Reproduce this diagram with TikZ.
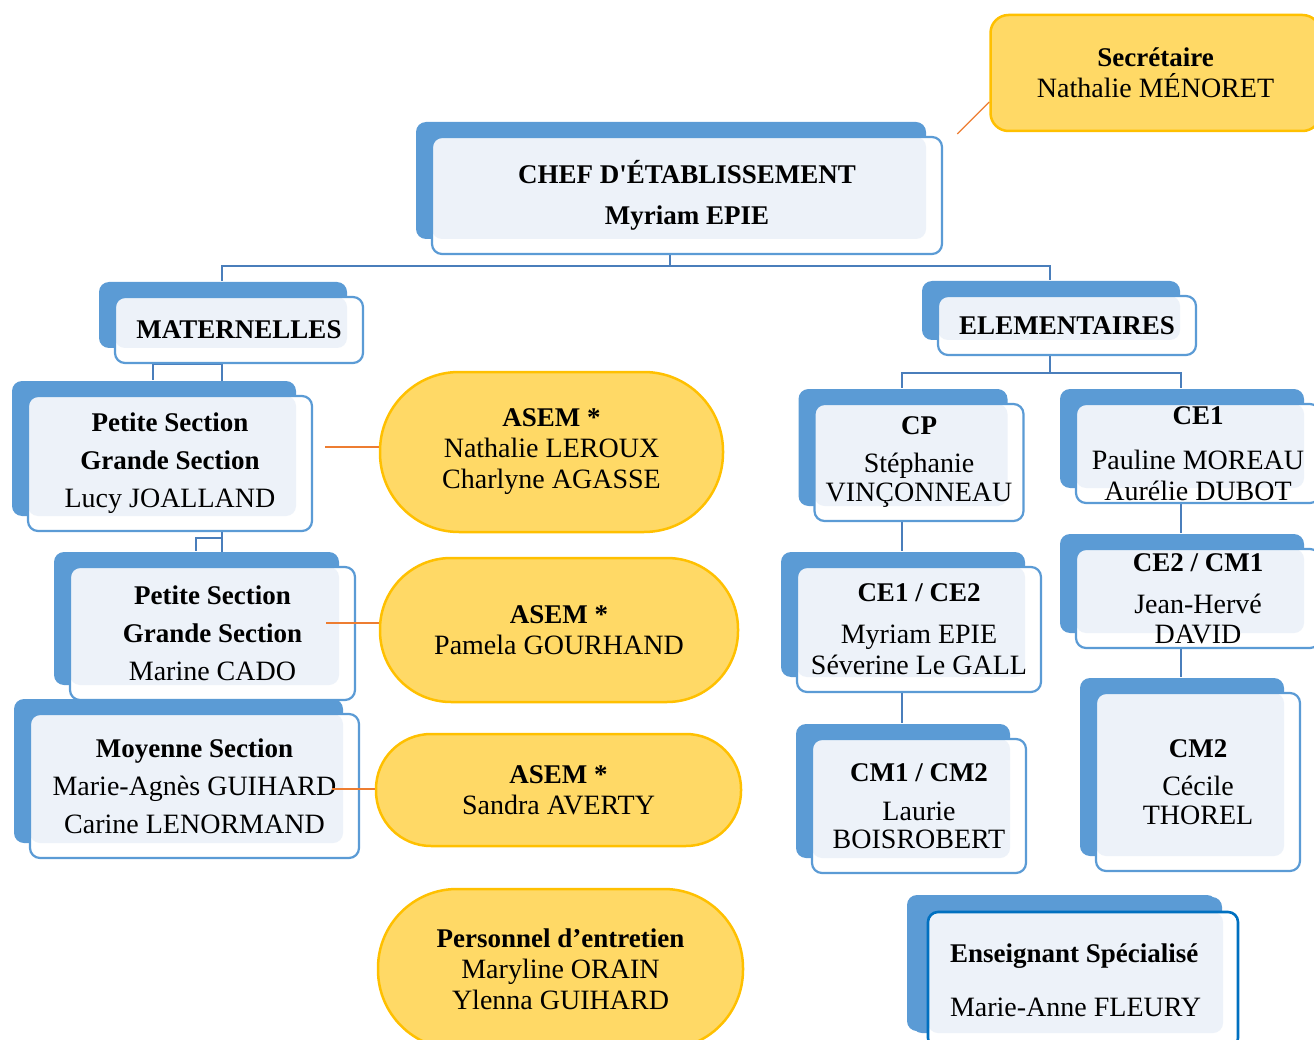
\documentclass[tikz,border=0pt]{standalone}
\usepackage{fontspec}
\setmainfont{Liberation Serif}
\usetikzlibrary{shadows,backgrounds}

\definecolor{boxblue}{HTML}{5B9BD5}
\definecolor{boxtint}{HTML}{EDF2F9}
\definecolor{linkblue}{HTML}{4A7EBB}
\definecolor{tieorange}{HTML}{ED7D31}
\definecolor{goldfill}{HTML}{FFD966}
\definecolor{goldline}{HTML}{FFC000}
\definecolor{specblue}{HTML}{0070C0}

\newcommand{\boxhead}[1]{{\fontsize{27}{31}\selectfont\bfseries #1}}

\tikzset{
	classbox/.style={draw=boxblue, line width=2.2pt, fill=white, rounded corners=10pt,
		inner sep=0pt, align=center, font=\fontsize{28}{31}\selectfont,
		general shadow={fill=boxblue, shadow xshift=-16pt, shadow yshift=15pt},
		path picture={\fill[boxtint, rounded corners=10pt] (path picture bounding box.north west)
			rectangle ([xshift=-16pt,yshift=15pt]path picture bounding box.south east);}},
	specbox/.style={classbox, draw=specblue, line width=2.6pt,
		general shadow={fill=boxblue, shadow xshift=-21pt, shadow yshift=17pt},
		path picture={\fill[boxtint, rounded corners=10pt] (path picture bounding box.north west)
			rectangle ([xshift=-15pt,yshift=15pt]path picture bounding box.south east);}},
	staffbox/.style={draw=goldline, line width=2.5pt, fill=goldfill, inner sep=0pt,
		align=center, font=\fontsize{28}{31}\selectfont},
	link/.style={draw=linkblue, line width=2pt},
	tie/.style={draw=tieorange, line width=1.2pt}
}

\begin{document}
\begin{tikzpicture}[x=1pt, y=-1pt]

	\useasboundingbox (0,0) rectangle (1314,1040);

	\node[classbox, minimum width=510pt, minimum height=117pt] (chef) at (687,195.5)
		{\boxhead{CHEF D\textquotesingle ÉTABLISSEMENT}\\[10pt]\boxhead{Myriam EPIE}};
	\node[staffbox, rounded corners=18pt, minimum width=330pt, minimum height=116pt] (sec) at (1155.5,73)
		{\boxhead{Secrétaire}\\Nathalie MÉNORET};

	\node[classbox, minimum width=248pt, minimum height=66pt] (mat) at (239,330) {\boxhead{MATERNELLES}};
	\node[classbox, minimum width=258pt, minimum height=59pt] (elem) at (1067,325.5) {\boxhead{ELEMENTAIRES}};

	% maternelles
	\node[classbox, minimum width=284pt, minimum height=135pt] (psgsA) at (170,463.5)
		{\boxhead{Petite Section}\\[7pt]\boxhead{Grande Section}\\[7pt]Lucy JOALLAND};
	\node[classbox, minimum width=285pt, minimum height=133pt] (psgsB) at (212.5,633.5)
		{\boxhead{Petite Section}\\[7pt]\boxhead{Grande Section}\\[7pt]Marine CADO};
	\node[classbox, minimum width=329pt, minimum height=144pt] (ms) at (194.5,786)
		{\boxhead{Moyenne Section}\\[7pt]Marie-Agnès GUIHARD\\[7pt]Carine LENORMAND};

	\node[staffbox, rounded corners=79pt, minimum width=343pt, minimum height=160pt] (asemA) at (551.5,452)
		{\boxhead{ASEM *}\\Nathalie LEROUX\\Charlyne AGASSE};
	\node[staffbox, rounded corners=71pt, minimum width=358pt, minimum height=144pt] (asemB) at (559,630)
		{\boxhead{ASEM *}\\Pamela GOURHAND};
	\node[staffbox, rounded corners=55pt, minimum width=365pt, minimum height=112pt] (asemC) at (558.5,790)
		{\boxhead{ASEM *}\\Sandra AVERTY};
	\node[staffbox, rounded corners=79pt, minimum width=365pt, minimum height=160pt] (perso) at (560.5,969)
		{\boxhead{Personnel d’entretien}\\Maryline ORAIN\\Ylenna GUIHARD};

	% elementaires
	\node[classbox, minimum width=209pt, minimum height=117pt] (cp) at (919,462.5)
		{\boxhead{CP}\\[7pt]Stéphanie\\[-2pt]VINÇONNEAU};
	\node[classbox, minimum width=244pt, minimum height=125pt] (ceA) at (919,629.5)
		{\boxhead{CE1 / CE2}\\[11pt]Myriam EPIE\\Séverine Le GALL};
	\node[classbox, minimum width=214pt, minimum height=134pt] (cmA) at (919,806)
		{\boxhead{CM1 / CM2}\\[8pt]Laurie\\[-3pt]BOISROBERT};
	\node[classbox, minimum width=244pt, minimum height=99pt] (ce1) at (1198,453.5)
		{\boxhead{CE1}\\[14pt]Pauline MOREAU\\Aurélie DUBOT};
	\node[classbox, minimum width=244pt, minimum height=99pt] (ceB) at (1198,598.5)
		{\boxhead{CE2 / CM1}\\[11pt]Jean-Hervé\\[-1pt]DAVID};
	\node[classbox, minimum width=204pt, minimum height=178pt] (cm2) at (1198,782)
		{\boxhead{CM2}\\[7pt]Cécile\\[-2pt]THOREL};

	\node[specbox, align=flush left, text width=266pt, minimum width=310pt, minimum height=136pt] (spec) at (1083,980)
		{\boxhead{Enseignant Spécialisé}\\[23pt]Marie-Anne FLEURY};

	\begin{scope}[on background layer]
		\draw[link] ([xshift=-17pt]chef.south) -- ++(0,11) -| ([xshift=-17pt,yshift=15pt]mat.north);
		\draw[link] ([xshift=-17pt]chef.south) -- ++(0,11) -| ([xshift=-17pt,yshift=15pt]elem.north);

		\draw[link] ([xshift=-17pt]mat.south) -- ++(0,189);
		\draw[link] ([xshift=-17pt]mat.south) -| ([xshift=-17pt,yshift=15pt]psgsA.north);
		\draw[link] ([xshift=-17pt]mat.south) ++(0,174) -| ([xshift=-17pt,yshift=15pt]psgsB.north);

		\draw[link] ([xshift=-17pt]elem.south) -- ++(0,17) -| ([xshift=-17pt,yshift=15pt]cp.north);
		\draw[link] ([xshift=-17pt]elem.south) -- ++(0,17) -| ([xshift=-17pt,yshift=15pt]ce1.north);
		\draw[link] ([xshift=-17pt]cp.south) -- ([xshift=-17pt,yshift=15pt]ceA.north);
		\draw[link] ([xshift=-17pt]ceA.south) -- ([xshift=-17pt,yshift=15pt]cmA.north);
		\draw[link] ([xshift=-17pt]ce1.south) -- ([xshift=-17pt,yshift=15pt]ceB.north);
		\draw[link] ([xshift=-17pt]ceB.south) -- ([xshift=-17pt,yshift=15pt]cm2.north);
	\end{scope}

	\draw[tie] ([yshift=-29pt]sec.west) -- ++(-32,32);
	\draw[tie] ([yshift=5pt]asemA.west) -- ++(-54,0);
	\draw[tie] ([yshift=7pt]asemB.west) -- ++(-53,0);
	\draw[tie] ([yshift=1pt]asemC.west) -- ++(-43,0);

\end{tikzpicture}
\end{document}
